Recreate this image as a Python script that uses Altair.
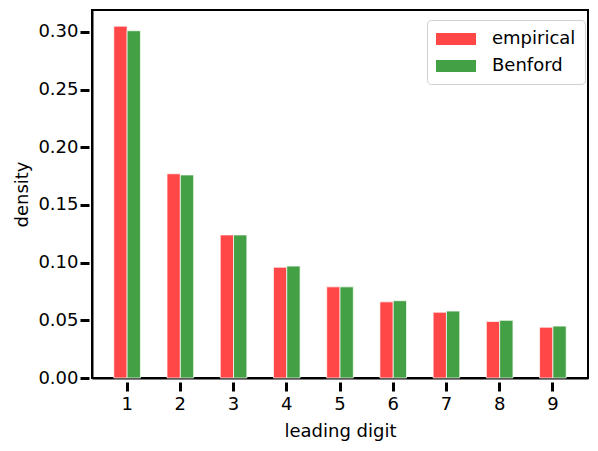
import altair as alt
import pandas as pd

digits = [1, 2, 3, 4, 5, 6, 7, 8, 9]
empirical = [0.305, 0.177, 0.124, 0.096, 0.079, 0.066, 0.057, 0.049, 0.044]
benford = [0.301, 0.176, 0.124, 0.097, 0.079, 0.067, 0.058, 0.050, 0.045]
series_names = ["empirical", "Benford"]
series_colors = ["#ff4747", "#44a044"]
y_ticks = [0.0, 0.05, 0.10, 0.15, 0.20, 0.25, 0.30]

rows = []
for d, e, b in zip(digits, empirical, benford):
    rows.append({"digit": d, "series": "empirical", "density": e})
    rows.append({"digit": d, "series": "Benford", "density": b})
df = pd.DataFrame(rows)

FONT = "DejaVu Sans"
FS = 18

bars = alt.Chart(df).mark_bar(
    stroke="white", strokeWidth=1, strokeOpacity=0.7
).encode(
    x=alt.X(
        "digit:O",
        scale=alt.Scale(paddingInner=0, paddingOuter=0.16),
        axis=alt.Axis(
            title="leading digit", labelAngle=0, labelFontSize=FS,
            titleFontSize=FS, labelPadding=4, titlePadding=9,
            tickSize=13, tickWidth=3, tickColor="black",
            tickDash=[0, 4, 9, 100],
            domainColor="black", domainWidth=2,
            labelFont=FONT, titleFont=FONT, titleFontWeight="normal",
            labelColor="black", titleColor="black",
        ),
    ),
    xOffset=alt.XOffset(
        "series:N", sort=series_names,
        scale=alt.Scale(paddingOuter=1, paddingInner=0),
    ),
    y=alt.Y(
        "density:Q",
        scale=alt.Scale(domain=[0, 0.319], nice=False),
        axis=alt.Axis(
            title="density", values=y_ticks, format=".2f",
            labelFontSize=FS, titleFontSize=FS, labelPadding=2,
            titlePadding=6, grid=False,
            tickSize=12, tickWidth=3, tickColor="black",
            tickDash=[0, 3, 9, 100],
            domainColor="black", domainWidth=2,
            labelFont=FONT, titleFont=FONT, titleFontWeight="normal",
            labelColor="black", titleColor="black",
        ),
    ),
    color=alt.Color(
        "series:N", sort=series_names,
        scale=alt.Scale(domain=series_names, range=series_colors),
        legend=alt.Legend(
            title=None, orient="none", legendX=335, legendY=10,
            padding=9, rowPadding=8, strokeColor="#d0d0d0",
            cornerRadius=4, fillColor="white",
            symbolType="M-2,-0.6H2V0.6H-2Z", symbolSize=400,
            symbolOffset=10, labelOffset=26, symbolStrokeWidth=0,
            labelFontSize=FS, labelFont=FONT, labelColor="black",
        ),
    ),
).properties(width=496, height=368)

chart = bars.properties(
    autosize=alt.AutoSizeParams(type="none"),
    padding={"left": 84, "top": 2, "right": 2, "bottom": 63},
).configure_view(stroke="black", strokeWidth=2)

chart.save("out.html", embed_options={"renderer": "svg", "actions": False})
